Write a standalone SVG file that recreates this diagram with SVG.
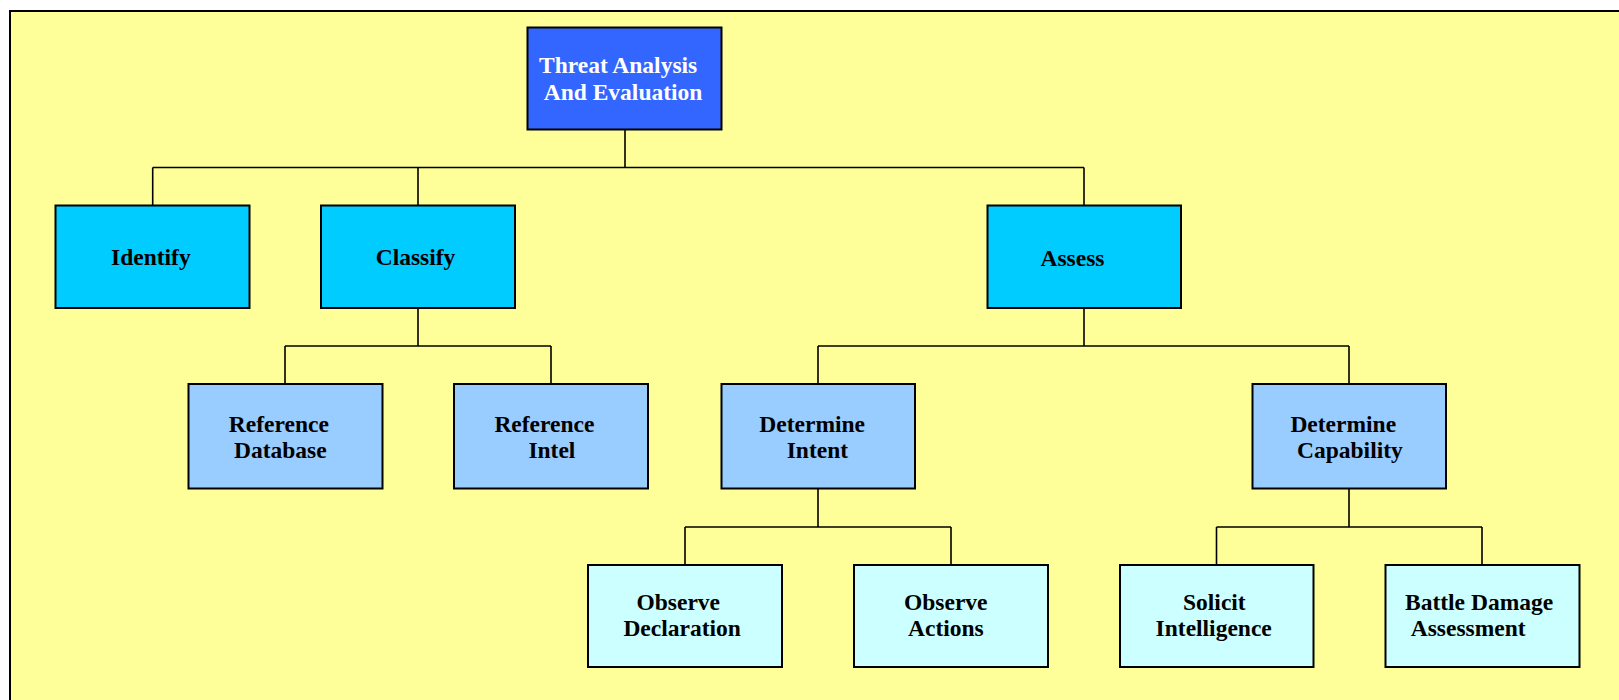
<svg xmlns="http://www.w3.org/2000/svg" width="1619" height="700" viewBox="0 0 1619 700">
  <style>
    .box { stroke: #000; stroke-width: 2; }
    .root { fill: #3366FF; }
    .l1 { fill: #00CCFF; }
    .l2 { fill: #99CCFF; }
    .l3 { fill: #CCFFFF; }
    .lbl { font-family: "Liberation Serif", "Times New Roman", serif; font-weight: bold; font-size: 23.5px; fill: #000; }
    .lbl-w { fill: #FFFFFF; }
    .conn { fill: none; stroke: #000; stroke-width: 1.6; }
  </style>

  <rect x="0" y="0" width="1619" height="700" fill="#FFFFFF"/>
  <!-- page frame -->
  <rect x="10" y="11" width="1620" height="700" fill="#FFFF99" stroke="#000" stroke-width="2"/>

  <g id="connectors">
    <path class="conn" d="M625 130 V167.5 M152.7 167.5 H1084 M152.7 167.5 V205.5 M418 167.5 V205.5 M1084 167.5 V205.5"/>
    <path class="conn" d="M418 308 V346 M285 346 H551 M285 346 V384 M551 346 V384"/>
    <path class="conn" d="M1084 308 V346 M818 346 H1349 M818 346 V384 M1349 346 V384"/>
    <path class="conn" d="M818 489 V527 M685 527 H951 M685 527 V565 M951 527 V565"/>
    <path class="conn" d="M1349 489 V527 M1216.5 527 H1482 M1216.5 527 V565 M1482 527 V565"/>
  </g>

  <g id="threat-analysis">
    <rect class="box root" x="527.5" y="27.5" width="194" height="102"/>
    <text class="lbl lbl-w" x="539" y="72.7">Threat Analysis</text>
    <text class="lbl lbl-w" x="543.7" y="100.3">And Evaluation</text>
  </g>

  <g id="identify">
    <rect class="box l1" x="55.5" y="205.5" width="194" height="102.5"/>
    <text class="lbl" x="111" y="265">Identify</text>
  </g>
  <g id="classify">
    <rect class="box l1" x="321" y="205.5" width="194" height="102.5"/>
    <text class="lbl" x="375.7" y="265">Classify</text>
  </g>
  <g id="assess">
    <rect class="box l1" x="987.5" y="205.5" width="193.5" height="102.5"/>
    <text class="lbl" x="1040.5" y="265.5">Assess</text>
  </g>

  <g id="reference-database">
    <rect class="box l2" x="188.5" y="384" width="194" height="104.5"/>
    <text class="lbl" x="228.8" y="432">Reference</text>
    <text class="lbl" x="234" y="457.7">Database</text>
  </g>
  <g id="reference-intel">
    <rect class="box l2" x="454" y="384" width="194" height="104.5"/>
    <text class="lbl" x="494.4" y="432">Reference</text>
    <text class="lbl" x="528.4" y="457.7">Intel</text>
  </g>
  <g id="determine-intent">
    <rect class="box l2" x="721.5" y="384" width="193.5" height="104.5"/>
    <text class="lbl" x="759.3" y="431.7">Determine</text>
    <text class="lbl" x="786.7" y="457.7">Intent</text>
  </g>
  <g id="determine-capability">
    <rect class="box l2" x="1252.5" y="384" width="193.5" height="104.5"/>
    <text class="lbl" x="1290.4" y="432">Determine</text>
    <text class="lbl" x="1297" y="457.7">Capability</text>
  </g>

  <g id="observe-declaration">
    <rect class="box l3" x="588" y="565" width="194" height="102"/>
    <text class="lbl" x="636.5" y="610">Observe</text>
    <text class="lbl" x="623.4" y="635.7">Declaration</text>
  </g>
  <g id="observe-actions">
    <rect class="box l3" x="854" y="565" width="194" height="102"/>
    <text class="lbl" x="904" y="610">Observe</text>
    <text class="lbl" x="908" y="635.7">Actions</text>
  </g>
  <g id="solicit-intelligence">
    <rect class="box l3" x="1120" y="565" width="193.5" height="102"/>
    <text class="lbl" x="1183" y="610">Solicit</text>
    <text class="lbl" x="1155.6" y="635.7">Intelligence</text>
  </g>
  <g id="battle-damage-assessment">
    <rect class="box l3" x="1385.5" y="565" width="194" height="102"/>
    <text class="lbl" x="1405" y="609.5">Battle Damage</text>
    <text class="lbl" x="1410.7" y="635.7">Assessment</text>
  </g>
</svg>
